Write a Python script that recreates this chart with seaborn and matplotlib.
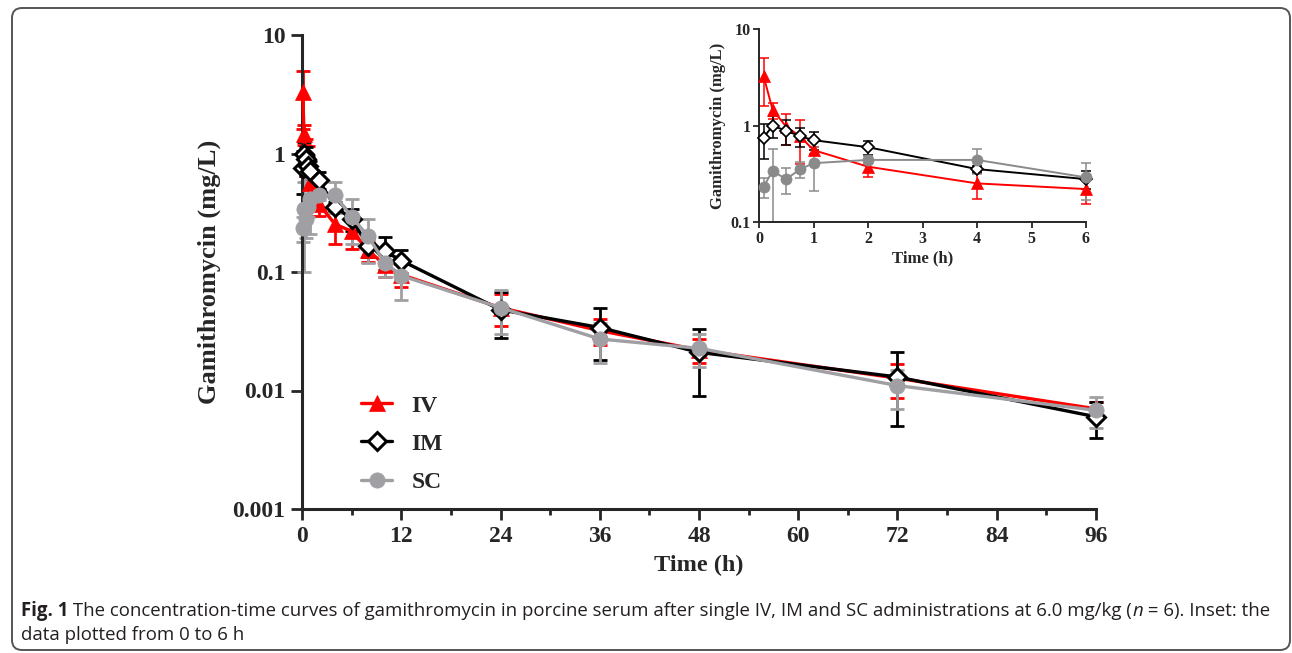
import numpy as np
import pandas as pd
import seaborn as sns
import matplotlib
matplotlib.use('Agg')
from matplotlib import pyplot as plt
from matplotlib.patches import FancyBboxPatch
from matplotlib.ticker import FixedLocator, NullLocator, FixedFormatter

# sampling times (h)
times = [0.083, 0.25, 0.5, 0.75, 1, 2, 4, 6, 8, 10, 12, 24, 36, 48, 72, 96]

# mean concentrations (mg/L)
iv_mean = [3.3, 1.46, 0.98, 0.78, 0.56, 0.377, 0.253, 0.221, 0.152, 0.115, 0.095, 0.05, 0.032, 0.022, 0.0127, 0.007]
im_mean = [0.755, 1.0, 0.89, 0.78, 0.71, 0.6, 0.356, 0.28, 0.165, 0.15, 0.125, 0.048, 0.034, 0.021, 0.013, 0.006]
sc_mean = [0.234, 0.34, 0.28, 0.354, 0.41, 0.443, 0.443, 0.292, 0.2, 0.12, 0.093, 0.05, 0.0272, 0.0227, 0.011, 0.0068]

# standard deviations (mg/L)
iv_sd = [1.7, 0.28, 0.34, 0.38, 0.05, 0.08, 0.08, 0.065, 0.03, 0.025, 0.021, 0.015, 0.008, 0.005, 0.004, 0.001]
im_sd = [0.3, 0.25, 0.25, 0.17, 0.15, 0.1, 0.03, 0.06, 0.03, 0.047, 0.027, 0.02, 0.016, 0.012, 0.008, 0.002]
sc_sd = [0.055, 0.24, 0.085, 0.065, 0.2, 0.04, 0.13, 0.12, 0.08, 0.03, 0.035, 0.02, 0.01, 0.007, 0.004, 0.002]

routes = ['IV', 'IM', 'SC']

rows = []
for r, m, s in zip(routes, [iv_mean, im_mean, sc_mean], [iv_sd, im_sd, sc_sd]):
    for t, mv, sv in zip(times, m, s):
        rows.append({'Route': r, 'Time': t, 'Conc': mv, 'SD': sv})
df = pd.DataFrame(rows)

sns.set_style('ticks')
plt.rcParams['font.family'] = ['Liberation Serif', 'DejaVu Serif']
plt.rcParams['font.weight'] = 'bold'

fig = plt.figure(figsize=(12.92, 6.53), dpi=100)

styles = {
    'IV': dict(color='#ff0000', marker='^', mfc='#ff0000'),
    'IM': dict(color='#000000', marker='D', mfc='white'),
    'SC': dict(color='#a0a0a4', marker='o', mfc='#a0a0a4'),
}
inset_gray = '#8a8a8a'


def draw(ax, data, lw, ms, cap, elw, diamond_ms, gray):
    for r in routes:
        st = styles[r]
        col = gray if r == 'SC' else st['color']
        d = data[data['Route'] == r]
        ax.errorbar(d['Time'], d['Conc'], yerr=d['SD'], fmt='none', ecolor=col,
                    elinewidth=elw, capsize=cap, capthick=elw, clip_on=False, zorder=2)
        size = diamond_ms if r == 'IM' else ms
        sns.lineplot(data=d, x='Time', y='Conc', ax=ax, color=col, marker=st['marker'],
                     markersize=size, markerfacecolor=(gray if r == 'SC' else st['mfc']),
                     markeredgecolor=col, markeredgewidth=(lw * 0.9 if r == 'IM' else 0.5),
                     linewidth=lw, errorbar=None, label=r, clip_on=False, zorder=3)


# ---------------- main plot
ax = fig.add_axes([302 / 1292, 1 - 509 / 653, 794 / 1292, 474 / 653])
draw(ax, df, lw=2.4, ms=11, cap=5, elw=2.0, diamond_ms=9, gray=styles['SC']['color'])
ax.set_yscale('log')
ax.set_xlim(0, 96)
ax.set_ylim(0.001, 10)
ax.xaxis.set_major_locator(FixedLocator(np.arange(0, 97, 12)))
ax.xaxis.set_minor_locator(FixedLocator(np.arange(6, 97, 12)))
ax.yaxis.set_major_locator(FixedLocator([0.001, 0.01, 0.1, 1, 10]))
ax.yaxis.set_major_formatter(FixedFormatter(['0.001', '0.01', '0.1', '1', '10']))
ax.yaxis.set_minor_locator(NullLocator())
ax.tick_params(axis='both', which='major', length=8, width=2, labelsize=17, pad=4)
ax.tick_params(axis='x', which='minor', length=4, width=2)
for s in ['left', 'bottom']:
    ax.spines[s].set_linewidth(2.2)
sns.despine(ax=ax)
for lab in ax.get_xticklabels() + ax.get_yticklabels():
    lab.set_fontweight('bold')
ax.set_xlabel('Time (h)', fontsize=17.5, fontweight='bold', labelpad=6)
ax.set_ylabel('Gamithromycin (mg/L)', fontsize=19, fontweight='bold', labelpad=8)
leg = ax.legend(loc='upper left', bbox_to_anchor=(0.047, 0.285), frameon=False,
                handlelength=1.35, handletextpad=0.8, labelspacing=0.7,
                prop={'family': 'Liberation Serif', 'weight': 'bold', 'size': 17})

# ---------------- inset
axi = fig.add_axes([759 / 1292, 1 - 222.3 / 653, 327 / 1292, 193 / 653])
draw(axi, df[df['Time'] <= 6], lw=1.4, ms=8, cap=3.5, elw=1.1, diamond_ms=6.5, gray=inset_gray)
axi.set_yscale('log')
axi.set_xlim(0, 6)
axi.set_ylim(0.1, 10)
axi.xaxis.set_major_locator(FixedLocator(range(0, 7)))
axi.yaxis.set_major_locator(FixedLocator([0.1, 1, 10]))
axi.yaxis.set_major_formatter(FixedFormatter(['0.1', '1', '10']))
axi.yaxis.set_minor_locator(NullLocator())
axi.tick_params(axis='both', which='major', length=4, width=1.3, labelsize=11.5, pad=2)
for s in ['left', 'bottom']:
    axi.spines[s].set_linewidth(1.4)
sns.despine(ax=axi)
for lab in axi.get_xticklabels() + axi.get_yticklabels():
    lab.set_fontweight('bold')
axi.set_xlabel('Time (h)', fontsize=12, fontweight='bold', labelpad=3)
axi.set_ylabel('Gamithromycin (mg/L)', fontsize=12, fontweight='bold', labelpad=3)
if axi.get_legend() is not None:
    axi.get_legend().remove()

# ---------------- frame and caption
fig.add_artist(FancyBboxPatch((12, 3), 1278, 642, boxstyle='round,pad=0,rounding_size=10',
                              transform=None, fill=False, edgecolor='#555555', linewidth=1.4))

renderer = fig.canvas.get_renderer()
cap_font = 'Open Sans'
cap_size = 13.4
cap_col = '#231f20'


def put_line(segments, x0, y0):
    x = x0
    for txt, weight, style in segments:
        t = fig.text(x, y0, txt, transform=None, fontsize=cap_size, family=cap_font,
                     fontweight=weight, fontstyle=style, color=cap_col, va='baseline')
        bb = t.get_window_extent(renderer=renderer)
        x = bb.x1


put_line([('Fig. 1', 'bold', 'normal'),
          (' The concentration-time curves of gamithromycin in porcine serum after single IV, IM and SC '
           'administrations at 6.0 mg/kg (', 'normal', 'normal'),
          ('n', 'normal', 'italic'),
          (' = 6). Inset: the', 'normal', 'normal')], 21, 653 - 616)
put_line([('data plotted from 0 to 6 h', 'normal', 'normal')], 21, 653 - 640)

fig.savefig('out.png', dpi=100)
